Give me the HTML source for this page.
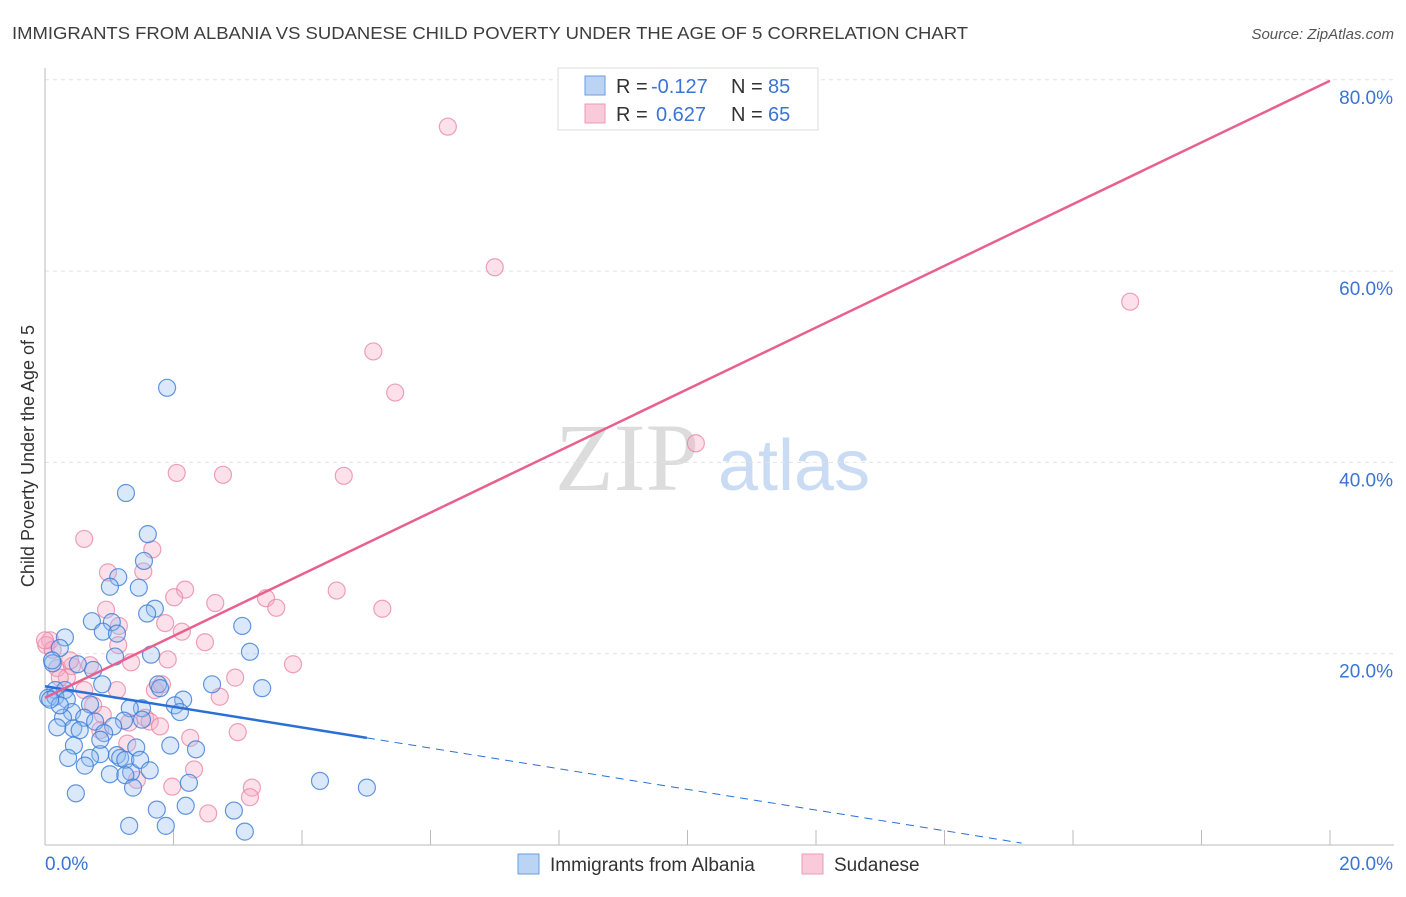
<!DOCTYPE html>
<html><head><meta charset="utf-8"><style>
body{margin:0;background:#fff;width:1406px;height:892px;overflow:hidden;font-family:"Liberation Sans",sans-serif}
</style></head><body>
<svg id="chart" width="1406" height="892" xmlns="http://www.w3.org/2000/svg">
<text x="12" y="39" font-size="17.5" fill="#3d3d3d" textLength="956" lengthAdjust="spacingAndGlyphs">IMMIGRANTS FROM ALBANIA VS SUDANESE CHILD POVERTY UNDER THE AGE OF 5 CORRELATION CHART</text>
<text x="1394" y="39" font-size="15" fill="#555" font-style="italic" text-anchor="end">Source: ZipAtlas.com</text>
<g>
<text x="555" y="490" font-size="96" fill="#dcdcdc" font-family="Liberation Serif,serif">ZIP</text>
<text x="718" y="490" font-size="72" fill="#c9dcf3">atlas</text>
</g>
<g id="grid"></g><g id="pts"></g><g id="lines"></g>
<text transform="translate(34,456) rotate(-90)" font-size="18" fill="#333" text-anchor="middle">Child Poverty Under the Age of 5</text>
<g>
<rect x="558" y="68" width="260" height="62" fill="#fff" stroke="#ddd"/>
<rect x="585" y="76" width="20" height="19" fill="#bcd4f4" stroke="#6a9be0"/>
<rect x="585" y="104" width="20" height="19" fill="#f9cad9" stroke="#ec9ab5"/>
<text x="616" y="93" font-size="20" fill="#333">R =</text><text x="651" y="93" font-size="20" fill="#3b74d4">-0.127</text>
<text x="731" y="93" font-size="20" fill="#333">N =</text><text x="768" y="93" font-size="20" fill="#3b74d4">85</text>
<text x="616" y="121" font-size="20" fill="#333">R =</text><text x="656" y="121" font-size="20" fill="#3b74d4">0.627</text>
<text x="731" y="121" font-size="20" fill="#333">N =</text><text x="768" y="121" font-size="20" fill="#3b74d4">65</text>
</g>
<g>
<rect x="518" y="854" width="21" height="20" fill="#bcd4f4" stroke="#6a9be0"/>
<text x="550" y="871" font-size="19" fill="#333">Immigrants from Albania</text>
<rect x="802" y="854" width="21" height="20" fill="#f9cad9" stroke="#ec9ab5"/>
<text x="834" y="871" font-size="19" fill="#333">Sudanese</text>
</g>
</svg>
<script>
const xTicks=[0,2,4,6,8,10,12,14,16,18,20];
const yTicks=[20,40,60,80];
const blueX=[1.90,1.26,1.60,1.54,1.14,1.01,1.46,1.71,1.59,0.73,1.04,0.31,0.90,1.12,3.07,0.23,3.19,1.65,1.09,0.12,0.51,0.75,3.38,2.60,1.76,1.79,0.16,0.31,0.05,0.16,0.89,0.34,2.15,2.02,2.10,1.51,1.32,0.70,0.42,0.61,0.28,0.78,1.23,1.51,1.06,0.44,0.19,0.92,0.45,1.42,1.95,2.35,0.86,1.12,0.70,1.17,0.36,1.25,0.62,1.34,1.01,1.25,2.24,4.28,5.01,1.37,0.48,1.74,2.19,2.94,1.31,1.88,3.11,0.23,0.08,0.11,0.86,0.54,1.48,1.63];
const blueY=[47.8,36.8,32.5,29.7,28.0,27.0,26.9,24.7,24.2,23.4,23.3,21.7,22.3,22.1,22.9,20.6,20.2,19.9,19.7,19.0,18.9,18.3,16.4,16.8,16.8,16.4,16.2,16.2,15.4,15.5,16.8,15.2,15.2,14.6,13.9,14.3,14.3,14.7,13.9,13.3,13.3,12.9,13.0,13.1,12.4,12.2,12.3,11.7,10.4,10.2,10.4,10.0,9.5,9.4,9.1,9.1,9.1,8.9,8.3,7.6,7.4,7.3,6.5,6.7,6.0,6.0,5.4,3.7,4.1,3.6,2.0,2.0,1.4,14.6,15.2,19.3,11.0,12.0,8.9,7.8];
const pinkX=[6.27,7.00,16.89,5.11,5.45,10.13,2.05,2.77,4.65,0.61,1.67,0.98,1.53,2.18,2.01,2.65,3.44,3.60,4.54,5.25,0.95,1.15,1.87,2.13,2.49,0.08,0.02,0.12,1.14,0.19,0.42,0.70,0.34,1.34,1.91,2.96,3.86,1.71,1.82,1.12,0.61,2.72,0.75,0.90,1.56,1.63,3.00,2.26,0.86,1.31,1.79,1.28,2.32,1.98,1.43,3.22,3.19,2.54,0,0.23,0.39];
const pinkY=[75.1,60.4,56.8,51.6,47.3,42.0,38.9,38.7,38.6,32.0,30.9,28.5,28.6,26.7,25.9,25.3,25.8,24.8,26.6,24.7,24.6,22.9,23.2,22.3,21.2,21.4,20.9,20.4,20.9,18.5,18.7,18.8,17.5,19.1,19.4,17.5,18.9,16.2,16.8,16.2,16.2,15.5,14.6,13.6,13.3,12.9,11.8,11.2,12.0,12.8,12.4,10.6,7.9,6.1,6.8,6.0,5.0,3.3,21.4,17.5,19.3];
const blueTrend=[[0,16.6],[5.01,11.2],[15.2,0.2]];
const pinkTrend=[[0,15.4],[20,79.9]];
const NS='http://www.w3.org/2000/svg';
const X=v=>45+v*64.25, Y=v=>845-v*9.565;
function mk(tag,attrs,parent){const e=document.createElementNS(NS,tag);for(const k in attrs)e.setAttribute(k,attrs[k]);parent.appendChild(e);return e;}
const grid=document.getElementById('grid'),pts=document.getElementById('pts'),lines=document.getElementById('lines');
yTicks.forEach(t=>{
 const l=mk('line',{x1:45,x2:1394,y1:Y(t),y2:Y(t),stroke:'#e2e2e2','stroke-dasharray':'4,4'},grid);
 
 
 const tx=mk('text',{x:1393,y:Y(t)+24,'font-size':19,fill:'#3b74d4','text-anchor':'end'},grid);
 tx.textContent=t.toFixed(1)+'%';
 
 
});
mk('line',{x1:45,x2:45,y1:68,y2:845,stroke:'#bbb'},grid);
mk('line',{x1:45,x2:1394,y1:845,y2:845,stroke:'#bbb'},grid);
xTicks.forEach(t=>{
 const l=mk('line',{x1:X(t),x2:X(t),y1:830,y2:845,stroke:'#bbb'},grid);
 
 
});
[[0,45,'start'],[20,1393,'end']].forEach(([t,x,a])=>{
 const tx=mk('text',{x:x,y:870,'font-size':19,fill:'#3b74d4','text-anchor':a},grid);
 tx.textContent=t.toFixed(1)+'%';
 
 
});
pinkX.forEach((v,i)=>{
 const c=mk('circle',{cx:X(v),cy:Y(pinkY[i]),r:8.5,fill:'rgba(245,170,195,0.35)',stroke:'rgba(232,130,165,0.75)','stroke-width':1.2},pts);
 
 
});
blueX.forEach((v,i)=>{
 const c=mk('circle',{cx:X(v),cy:Y(blueY[i]),r:8.5,fill:'rgba(150,190,240,0.35)',stroke:'rgba(60,125,215,0.8)','stroke-width':1.2},pts);
 
 
});
let l1=mk('line',{x1:X(blueTrend[0][0]),y1:Y(blueTrend[0][1]),x2:X(blueTrend[1][0]),y2:Y(blueTrend[1][1]),stroke:'#2a6fd6','stroke-width':2.5},lines);


let l2=mk('line',{x1:X(blueTrend[1][0]),y1:Y(blueTrend[1][1]),x2:X(blueTrend[2][0]),y2:Y(blueTrend[2][1]),stroke:'#2a6fd6','stroke-width':1,'stroke-dasharray':'8,6'},lines);


let l3=mk('line',{x1:X(pinkTrend[0][0]),y1:Y(pinkTrend[0][1]),x2:X(pinkTrend[1][0]),y2:Y(pinkTrend[1][1]),stroke:'#e8608e','stroke-width':2.5},lines);


</script>
</body></html>
